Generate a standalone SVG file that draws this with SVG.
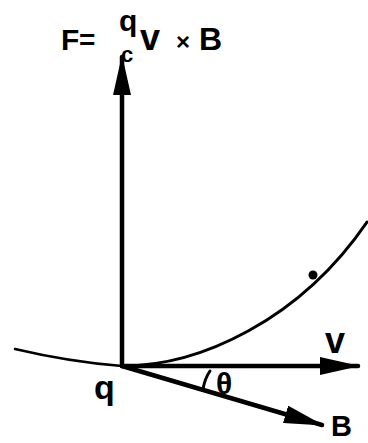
<svg xmlns="http://www.w3.org/2000/svg" width="368" height="443" viewBox="0 0 368 443">
<style>
.t{font-family:"Liberation Sans",Arial,sans-serif;font-weight:bold;fill:#000}
.ln{stroke:#000;fill:none;stroke-linecap:round}
</style>
<defs>
<marker id="ah" viewBox="0 0 40 18" refX="38" refY="9" markerWidth="40" markerHeight="18" markerUnits="userSpaceOnUse" orient="auto">
<path d="M0,0 L40,9 L0,18 Z" fill="#000"/>
</marker>
</defs>
<rect width="368" height="443" fill="#fff"/>
<g id="connectors">
<path class="ln" stroke-width="2.5" d="M15,349 Q70,362 122,366"/>
<path class="ln" stroke-width="3" d="M122,366 C200,366 300,320 367,222"/>
<line class="ln" stroke-width="4.5" x1="122" y1="366" x2="122" y2="57" marker-end="url(#ah)"/>
<line class="ln" stroke-width="4.5" x1="122" y1="366" x2="358" y2="366" marker-end="url(#ah)"/>
<line class="ln" stroke-width="4.5" x1="122" y1="366" x2="322" y2="425" marker-end="url(#ah)"/>
<path class="ln" stroke-width="3" d="M203,389 Q205,378 210,371"/>
</g>
<g id="dot"><circle cx="313" cy="275" r="4.5" fill="#000"/></g>
<g id="formula">
<text class="t" x="61" y="50" font-size="30">F</text>
<text class="t" x="79" y="49" font-size="28">=</text>
<text class="t" x="119" y="31" font-size="30">q</text>
<text class="t" x="121" y="62" font-size="22">c</text>
<text class="t" x="140" y="50" font-size="36">v</text>
<text class="t" x="176" y="50" font-size="24">×</text>
<text class="t" x="199" y="50" font-size="32">B</text>
</g>
<g id="labels">
<text class="t" x="94" y="399" font-size="34">q</text>
<text class="t" x="216" y="394" font-size="30">θ</text>
<text class="t" x="325" y="353" font-size="36">v</text>
<text class="t" x="331" y="436" font-size="29">B</text>
</g>
</svg>
